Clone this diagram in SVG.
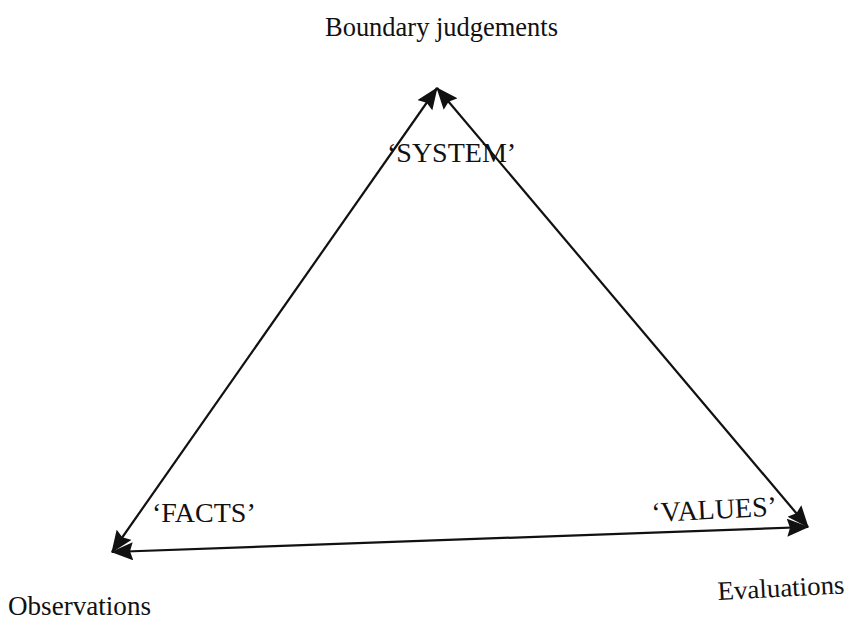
<svg xmlns="http://www.w3.org/2000/svg" width="847" height="627" viewBox="0 0 847 627">
  <style>
    .lbl { font-family: "Liberation Serif", "Times New Roman", serif; font-size: 26.5px; fill: #111; }
    .caps { font-size: 28px; }
    .edge { stroke: #111; stroke-width: 2.2; fill: none; }
  </style>
  <defs>
    <marker id="head" markerUnits="userSpaceOnUse" viewBox="0 0 22 18" refX="21" refY="9" markerWidth="22" markerHeight="18" orient="auto-start-reverse">
      <path d="M0,0 L22,9 L0,18 L3,9 Z" fill="#111"/>
    </marker>
  </defs>
  <rect width="847" height="627" fill="#fff"/>

  <g id="connectors">
    <line class="edge" x1="112" y1="552" x2="437" y2="88" marker-start="url(#head)" marker-end="url(#head)"/>
    <line class="edge" x1="437" y1="88" x2="808" y2="527" marker-start="url(#head)" marker-end="url(#head)"/>
    <line class="edge" x1="112" y1="552" x2="808" y2="527" marker-start="url(#head)" marker-end="url(#head)"/>
  </g>

  <g id="boundary">
    <text class="lbl" x="325" y="36" textLength="233" lengthAdjust="spacingAndGlyphs">Boundary judgements</text>
    <text class="lbl caps" x="387" y="162">‘SYSTEM’</text>
  </g>
  <g id="observations">
    <text class="lbl caps" x="152" y="522">‘FACTS’</text>
    <text class="lbl" x="8" y="615" textLength="143" lengthAdjust="spacingAndGlyphs">Observations</text>
  </g>
  <g id="evaluations">
    <text class="lbl caps" x="652" y="522" transform="rotate(-3 652 522)">‘VALUES’</text>
    <text class="lbl" x="718" y="600" textLength="127" lengthAdjust="spacingAndGlyphs" transform="rotate(-3 718 600)">Evaluations</text>
  </g>
</svg>
